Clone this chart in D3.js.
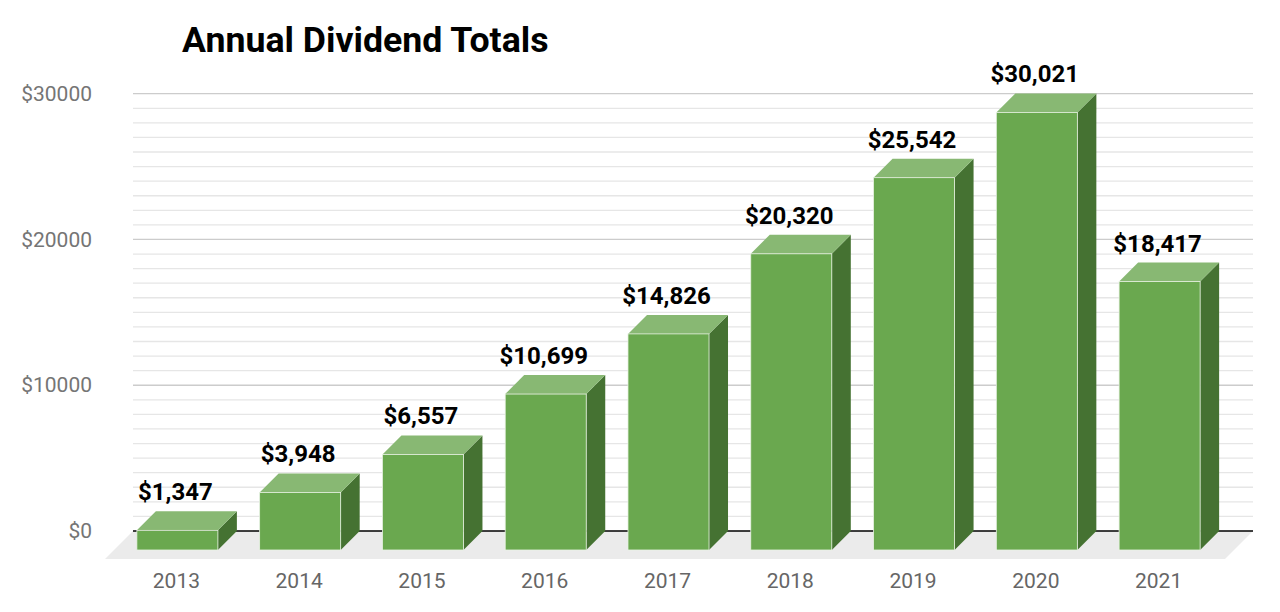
<!DOCTYPE html>
<html><head><meta charset="utf-8">
<script src="https://cdn.jsdelivr.net/npm/d3@7"></script>
<style>html,body{margin:0;padding:0;background:#fff;}svg{display:block;font-family:Roboto,"Noto Sans",sans-serif;}</style>
</head><body><svg id="c" width="1280" height="612"></svg>
<script>
const title = "Annual Dividend Totals";
const years = ["2013","2014","2015","2016","2017","2018","2019","2020","2021"];
const totals = [1347, 3948, 6557, 10699, 14826, 20320, 25542, 30021, 18417];
const valueLabels = ["$1,347","$3,948","$6,557","$10,699","$14,826","$20,320","$25,542","$30,021","$18,417"];
const majorTicks = [0, 10000, 20000, 30000];
const minorStep = 1000;

const svg = d3.select("#c");
const plotL = 133, plotR = 1253;
const depthX = 19, depthY = 19;
const y = d3.scaleLinear().domain([0, 30000]).range([531, 93.7]);
const x = d3.scaleBand().domain(years).range([116, 1221]).paddingInner(0.34).paddingOuter(0.17);
const bw = x.bandwidth();

// title
svg.append("text").attr("x", 182).attr("y", 52).attr("font-size", 35.7).attr("font-weight", 700)
  .attr("fill", "#000").text(title);

// minor grid
const minor = d3.range(0, 30001, minorStep).filter(v => !majorTicks.includes(v));
svg.append("g").selectAll("line").data(minor).join("line")
  .attr("x1", plotL).attr("x2", plotR).attr("y1", d => y(d)).attr("y2", d => y(d))
  .attr("stroke", "#e6e6e6").attr("stroke-width", 1.3);
// major grid
svg.append("g").selectAll("line").data(majorTicks.filter(d => d > 0)).join("line")
  .attr("x1", plotL).attr("x2", plotR).attr("y1", d => y(d)).attr("y2", d => y(d))
  .attr("stroke", "#cccccc").attr("stroke-width", 1.3);

// floor
const y0 = y(0), floorD = 28;
svg.append("path").attr("d", `M${plotL},${y0}L${plotR},${y0}L${plotR - floorD},${y0 + floorD}L${plotL - floorD},${y0 + floorD}Z`)
  .attr("fill", "#ebebeb");
svg.append("line").attr("x1", plotL).attr("x2", plotR).attr("y1", y0).attr("y2", y0)
  .attr("stroke", "#000").attr("stroke-width", 1.3);

// y axis labels
const yAxis = d3.axisLeft(y).tickValues(majorTicks).tickFormat(d => "$" + d).tickSize(0).tickPadding(0);
const ga = svg.append("g").attr("transform", "translate(92,0)").call(yAxis);
ga.select(".domain").remove();
ga.selectAll("text").attr("font-size", 21).attr("fill", "#757575").attr("font-family", "Roboto");

// x axis labels
const xAxis = d3.axisBottom(x).tickSize(0).tickPadding(0);
const gx = svg.append("g").attr("transform", "translate(-1,573)").call(xAxis);
gx.select(".domain").remove();
gx.selectAll("text").attr("font-size", 21).attr("fill", "#666666").attr("font-family", "Roboto").attr("dy", "0.72em");

// bars
const data = years.map((yr, i) => ({yr, v: totals[i], lab: valueLabels[i]}));
const bars = svg.append("g").selectAll("g").data(data).join("g");
bars.append("path").attr("d", d => {
  const x0 = x(d.yr), yt = y(d.v);
  return `M${x0 + bw},${yt + depthY}L${x0 + bw + depthX},${yt}L${x0 + bw + depthX},${y0}L${x0 + bw},${y0 + depthY}Z`;
}).attr("fill", "#457232");
bars.append("path").attr("d", d => {
  const x0 = x(d.yr), yt = y(d.v);
  return `M${x0},${yt + depthY}L${x0 + bw},${yt + depthY}L${x0 + bw + depthX},${yt}L${x0 + depthX},${yt}Z`;
}).attr("fill", "#88b873");
bars.append("rect").attr("x", d => x(d.yr)).attr("y", d => y(d.v) + depthY)
  .attr("width", bw).attr("height", d => y0 - y(d.v))
  .attr("fill", "#6aa84f").attr("stroke", "#e8f2e3").attr("stroke-width", 0.8);
bars.append("text").attr("x", d => x(d.yr) + bw / 2 - 2).attr("y", d => y(d.v) - 11)
  .attr("text-anchor", "middle").attr("font-size", 24).attr("font-weight", 700).attr("fill", "#000")
  .text(d => d.lab);
</script></body></html>
